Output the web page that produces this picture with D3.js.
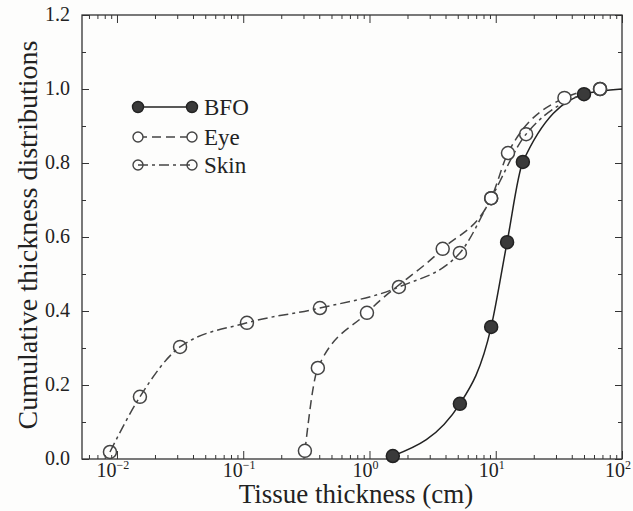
<!DOCTYPE html>
<html>
<head>
<meta charset="utf-8">
<script src="https://cdn.jsdelivr.net/npm/d3@7/dist/d3.min.js"></script>
<style>
  body { margin: 0; background: #fdfdfc; }
  svg { display: block; }
  text { font-family: "Liberation Serif", "Times New Roman", serif; fill: #222; }
</style>
</head>
<body>
<svg id="chart"></svg>
<script>
var width = 633;
var height = 511;

// series data (x in cm, y cumulative fraction)
var bfoX = [1.53, 5.2, 9.2, 12.3, 16.4, 50, 100];
var bfoY = [0.008, 0.149, 0.357, 0.586, 0.803, 0.986, 1.0];
var eyeX = [0.308, 0.39, 0.955, 3.8, 9.2, 12.5, 35, 67];
var eyeY = [0.022, 0.246, 0.395, 0.568, 0.705, 0.827, 0.976, 1.0];
var skinX = [0.0088, 0.0152, 0.0316, 0.107, 0.405, 1.71, 5.2, 9.2, 17.4, 67];
var skinY = [0.019, 0.168, 0.303, 0.368, 0.408, 0.465, 0.557, 0.705, 0.878, 1.0];

var legendNames = ["BFO", "Eye", "Skin"];
var xDecades = [-2, -1, 0, 1, 2];
var yMajor = [0, 0.2, 0.4, 0.6, 0.8, 1.0, 1.2];
var yMinor = [0.1, 0.3, 0.5, 0.7, 0.9, 1.1];

var plotLeft = 82, plotRight = 622, plotTop = 15, plotBottom = 459;

var svg = d3.select("#chart")
  .attr("width", width)
  .attr("height", height);

var x = d3.scaleLog()
  .domain([Math.pow(10, -2.277), 100])
  .range([plotLeft, plotRight]);

var y = d3.scaleLinear()
  .domain([0, 1.2])
  .range([plotBottom, plotTop]);

var axisColor = "#333";

// minor log ticks (2..9 of each decade)
var minorX = x.ticks().filter(function(v) {
  var l = Math.log10(v);
  return Math.abs(l - Math.round(l)) > 1e-6;
});
var majorX = xDecades.map(function(d) { return Math.pow(10, d); });

function styleAxis(g) {
  g.select(".domain").remove();
  g.selectAll("line").attr("stroke", axisColor).attr("stroke-width", 1);
  g.selectAll("text").remove();
}

// bottom + top ticks
svg.append("g").attr("transform", "translate(0," + plotBottom + ")")
  .call(d3.axisBottom(x).tickValues(minorX).tickSize(-4)).call(styleAxis);
svg.append("g").attr("transform", "translate(0," + plotBottom + ")")
  .call(d3.axisBottom(x).tickValues(majorX).tickSize(-8)).call(styleAxis);
svg.append("g").attr("transform", "translate(0," + plotTop + ")")
  .call(d3.axisTop(x).tickValues(minorX).tickSize(-4)).call(styleAxis);
svg.append("g").attr("transform", "translate(0," + plotTop + ")")
  .call(d3.axisTop(x).tickValues(majorX).tickSize(-8)).call(styleAxis);

// left + right ticks
svg.append("g").attr("transform", "translate(" + plotLeft + ",0)")
  .call(d3.axisLeft(y).tickValues(yMajor).tickSize(-7)).call(styleAxis);
svg.append("g").attr("transform", "translate(" + plotLeft + ",0)")
  .call(d3.axisLeft(y).tickValues(yMinor).tickSize(-4)).call(styleAxis);
svg.append("g").attr("transform", "translate(" + plotRight + ",0)")
  .call(d3.axisRight(y).tickValues(yMajor).tickSize(-7)).call(styleAxis);
svg.append("g").attr("transform", "translate(" + plotRight + ",0)")
  .call(d3.axisRight(y).tickValues(yMinor).tickSize(-4)).call(styleAxis);

// frame
svg.append("rect")
  .attr("x", plotLeft).attr("y", plotTop)
  .attr("width", plotRight - plotLeft).attr("height", plotBottom - plotTop)
  .attr("fill", "none")
  .attr("stroke", axisColor)
  .attr("stroke-width", 1.3);

// y tick labels
svg.selectAll(".ylab")
  .data(yMajor)
  .enter().append("text")
  .attr("class", "ylab")
  .attr("x", plotLeft - 12)
  .attr("y", function(d) { return y(d) + 6; })
  .attr("text-anchor", "end")
  .style("font-size", "20px")
  .text(function(d) { return d.toFixed(1); });

// x tick labels 10^n
var xl = svg.selectAll(".xlab")
  .data(xDecades)
  .enter().append("text")
  .attr("class", "xlab")
  .attr("x", function(d) { return x(Math.pow(10, d)) - 4; })
  .attr("y", plotBottom + 18)
  .attr("text-anchor", "middle")
  .style("font-size", "20px");
xl.append("tspan").text("10");
xl.append("tspan")
  .attr("dy", -8)
  .style("font-size", "12px")
  .text(function(d) { return d < 0 ? "\u2212" + (-d) : d; });

// axis titles
svg.append("text")
  .attr("x", 356)
  .attr("y", 503)
  .attr("text-anchor", "middle")
  .style("font-size", "27px")
  .text("Tissue thickness (cm)");

svg.append("text")
  .attr("transform", "translate(37,235) rotate(-90)")
  .attr("text-anchor", "middle")
  .style("font-size", "28px")
  .text("Cumulative thickness distributions");

// series
var series = [
  { name: "BFO", xs: bfoX, ys: bfoY, dash: null, fill: "#3a3a3a", stroke: "#222" },
  { name: "Eye", xs: eyeX, ys: eyeY, dash: "9,5", fill: "#fff", stroke: "#444" },
  { name: "Skin", xs: skinX, ys: skinY, dash: "10,4,3,4", fill: "none", stroke: "#444" }
];

var line = d3.line()
  .x(function(d) { return x(d[0]); })
  .y(function(d) { return y(d[1]); })
  .curve(d3.curveMonotoneX);

series.forEach(function(s) {
  s.points = s.xs.map(function(v, i) { return [v, s.ys[i]]; });
  svg.append("path")
    .datum(s.points)
    .attr("d", line)
    .attr("fill", "none")
    .attr("stroke", s.stroke)
    .attr("stroke-width", 1.5)
    .attr("stroke-dasharray", s.dash);
});

series.forEach(function(s) {
  svg.selectAll(".m_" + s.name)
    .data(s.points.filter(function(p) { return p[0] < 100; }))
    .enter().append("circle")
    .attr("class", "m_" + s.name)
    .attr("cx", function(d) { return x(d[0]); })
    .attr("cy", function(d) { return y(d[1]); })
    .attr("r", 6.5)
    .attr("fill", s.fill)
    .attr("stroke", s.stroke)
    .attr("stroke-width", 1.5);
});

// legend
var legendY = [107, 137, 165];
legendNames.forEach(function(name, i) {
  var s = series[i];
  var g = svg.append("g");
  g.append("line")
    .attr("x1", 138).attr("x2", 192)
    .attr("y1", legendY[i]).attr("y2", legendY[i])
    .attr("stroke", s.stroke)
    .attr("stroke-width", 1.5)
    .attr("stroke-dasharray", s.dash);
  [138, 192].forEach(function(cx) {
    g.append("circle")
      .attr("cx", cx).attr("cy", legendY[i])
      .attr("r", i == 0 ? 5.5 : 5)
      .attr("fill", s.fill)
      .attr("stroke", s.stroke)
      .attr("stroke-width", 1.4);
  });
  g.append("text")
    .attr("x", 204)
    .attr("y", legendY[i] + 8)
    .style("font-size", "23px")
    .text(name);
});
</script>
</body>
</html>
